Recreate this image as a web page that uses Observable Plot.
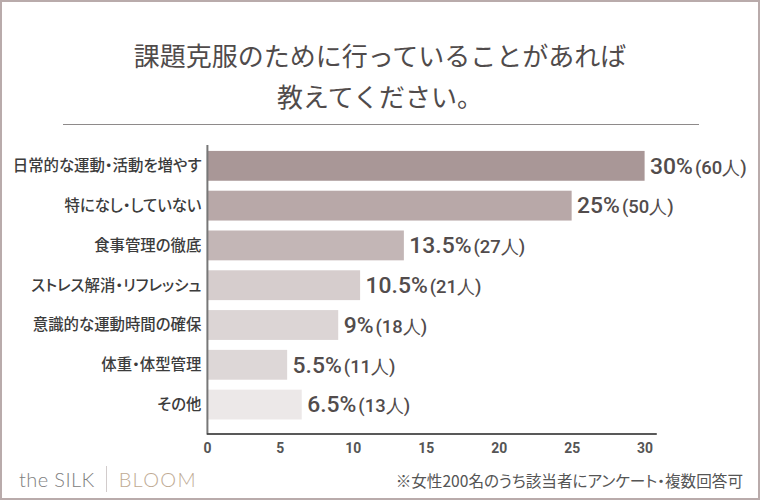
<!DOCTYPE html>
<html>
<head>
<meta charset="utf-8">
<script src="https://cdn.jsdelivr.net/npm/d3@7"></script>
<script src="https://cdn.jsdelivr.net/npm/@observablehq/plot@0.6"></script>
<style>
  html, body { margin: 0; padding: 0; background: #fff; }
  #frame { position: relative; width: 760px; height: 500px; box-sizing: border-box; border: 2px solid #b9abab; background: #fff; overflow: hidden; }
  .title { position: absolute; left: 0; width: 756px; text-align: center; font-family: 'Noto Sans CJK JP', sans-serif; font-size: 26px; line-height: 30px; color: #504b4b; font-weight: 400; }
  #rule { position: absolute; left: 61px; top: 122px; width: 636px; border-top: 1.5px solid #8e8a8a; }
  #chart { position: absolute; left: -2px; top: 133px; }
  #brand { position: absolute; left: 17px; top: 464px; height: 26px; font-family: Lato, sans-serif; font-weight: 300; font-size: 20px; line-height: 26px; letter-spacing: 0.4px; white-space: nowrap; }
  #brand .a { color: #808080; }
  #brand .sep { display: inline-block; width: 1px; height: 26px; background: #d2cccc; vertical-align: top; margin: 0 12px 0 11px; }
  #brand .b { color: #c0ab94; letter-spacing: 1.3px; }
  #note { position: absolute; right: 15px; top: 467px; font-family: 'Noto Sans CJK JP', sans-serif; font-size: 15.6px; line-height: 22px; color: #555; font-feature-settings: "palt"; white-space: nowrap; }
</style>
</head>
<body>
<div id="frame">
  <div class="title" style="top:38px">課題克服のために行っていることがあれば</div>
  <div class="title" style="top:79px">教えてください。</div>
  <div id="rule"></div>
  <div id="chart"></div>
  <div id="brand"><span class="a">the SILK</span><span class="sep"></span><span class="b">BLOOM</span></div>
  <div id="note">※女性200名のうち該当者にアンケート・複数回答可</div>
</div>
<script>
const categories = ["日常的な運動・活動を増やす", "特になし・していない", "食事管理の徹底", "ストレス解消・リフレッシュ", "意識的な運動時間の確保", "体重・体型管理", "その他"];
const percents = [30, 25, 13.5, 10.5, 9, 5.5, 6.5];
const counts = [60, 50, 27, 21, 18, 11, 13];
const xTicks = [0, 5, 10, 15, 20, 25, 30];
const barColors = ["#a99797", "#b8a8a8", "#c3b6b6", "#d6cdcd", "#dcd5d5", "#ddd7d7", "#ece8e8"];

const data = categories.map((c, i) => ({category: c, pct: percents[i], n: counts[i]}));

const chart = Plot.plot({
  width: 762,
  height: 330,
  marginLeft: 208,
  marginRight: 103,
  marginTop: 10,
  marginBottom: 30,
  style: {fontFamily: "'Noto Sans CJK JP', sans-serif", fontSize: "15px", color: "#3c3c3c", background: "transparent", overflow: "visible"},
  x: {domain: [0, 30.75], ticks: xTicks},
  y: {domain: categories, paddingInner: 0.25, paddingOuter: 0.245, align: 0.3},
  color: {domain: categories, range: barColors},
  marks: [
    Plot.barX(data, {x: "pct", y: "category", fill: "category"}),
    Plot.ruleX([0], {stroke: "#777", strokeWidth: 2}),
    Plot.frame({anchor: "bottom", stroke: "#222", strokeWidth: 1.5}),
    Plot.text(data, {x: "pct", y: "category", text: d => `${d.pct}%|(${d.n}人)`, textAnchor: "start", dx: 5, fontSize: 23, fontFamily: "Roboto, sans-serif", fontWeight: 500, fill: "#524c4c"}),
    Plot.axisY({tickSize: 0, tickPadding: 6, label: null, fontSize: 15.5, fontWeight: 500, color: "#3c3c3c"}),
    Plot.axisX({tickSize: 0, tickPadding: 9, label: null, fontSize: 14, fontWeight: "bold", fontFamily: "Roboto, sans-serif", color: "#555"})
  ]
});

d3.select(chart).selectAll("text").each(function() {
  const t = d3.select(this);
  const s = t.text();
  if (!s.includes("|")) return;
  const parts = s.split("|");
  t.text(null);
  t.append("tspan").text(parts[0]);
  t.append("tspan").attr("font-size", 18.5).attr("dx", 2).text(parts[1]);
});
d3.select(chart).selectAll('g[aria-label="y-axis tick label"] text').style("font-feature-settings", '"palt"');

document.getElementById("chart").appendChild(chart);
</script>
</body>
</html>
